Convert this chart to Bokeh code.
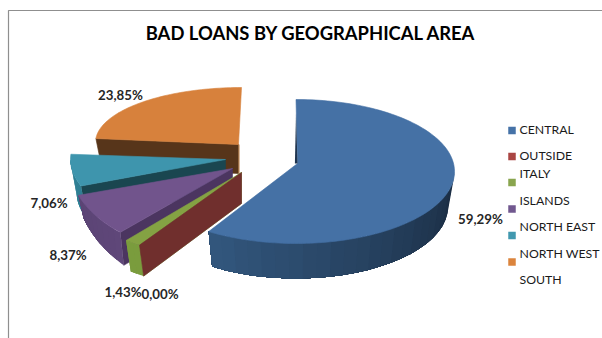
import math
from bokeh.plotting import figure
from bokeh.embed import file_html
from bokeh.resources import INLINE
from bokeh.core.properties import value

# Share of bad loans per area, percent
areas = ["CENTRAL", "OUTSIDE ITALY", "ISLANDS", "NORTH EAST", "NORTH WEST", "SOUTH"]
shares = [59.29, 0.00, 1.43, 8.37, 7.06, 23.85]

FONT = "Lato"
TITLE = "BAD LOANS BY GEOGRAPHICAL AREA"

# Slice projection: apex x, apex y, arc centre x, arc centre y, radius x, radius y,
# depth at the leading edge, depth at the trailing edge
geometry = [
    (297, 163, 295.5, 171, 158.5, 72, 35, 35),
    (241, 172, 241, 172, 185, 87, 31, 31),
    (241, 172, 241, 172, 185, 87, 31, 31),
    (232, 168, 204.7, 162.7, 136, 88.5, 33, 23),
    (225, 159, 225, 159, 155, 73, 33, 33),
    (238, 144, 241, 142, 146, 55, 29, 29),
]
top_colors = ["#4571a5", "#a94442", "#84a243", "#71548c", "#3e95ad", "#d7813c"]
wall_colors = ["#1f3550", "#702f2d", "#7a9c3d", "#4b3560", "#1a4650", "#57351a"]
rim_from = ["#1a2c42", "#702f2d", "#7a9c3d", "#5f4779", "#2f7f94", "#7a4a20"]
rim_to = ["#33587f", "#702f2d", "#7a9c3d", "#5b4475", "#2f7f94", "#8a5526"]
swatch_colors = ["#4572a7", "#aa4643", "#89a54e", "#71588f", "#4198af", "#db843d"]
BOTTOM_SCALE = 0.96

p = figure(width=602, height=338, x_range=(0, 602), y_range=(338, 0),
           output_backend="svg", toolbar_location=None,
           x_axis_location=None, y_axis_location=None,
           min_border=0, outline_line_color=None, background_fill_color="white")
p.xgrid.visible = False
p.ygrid.visible = False


def mix(c1, c2, t):
    a = [int(c1[i:i + 2], 16) for i in (1, 3, 5)]
    b = [int(c2[i:i + 2], 16) for i in (1, 3, 5)]
    return "#%02x%02x%02x" % tuple(round(u + (v - u) * t) for u, v in zip(a, b))


def top_pt(g, theta):
    return g[2] + g[4] * math.sin(theta), g[3] - g[5] * math.cos(theta)


def bottom_pt(g, pt, depth):
    return g[2] + (pt[0] - g[2]) * BOTTOM_SCALE, pt[1] + depth


def poly(xs, ys, color, stroke=True):
    p.patch(xs, ys, fill_color=color, line_color=color if stroke else None, line_width=0.6)


# Sweep of each slice, clockwise from twelve o'clock
bounds = []
acc = 0.0
for s in shares:
    bounds.append((acc / 100 * 2 * math.pi, (acc + s) / 100 * 2 * math.pi))
    acc += s

# Back slices first so the nearer ones cover them
for i in [5, 4, 3, 2, 1, 0]:
    g = geometry[i]
    a0, a1 = bounds[i]
    apex = (g[0], g[1])
    # radial wall on the leading edge of the left-hand slices
    if i > 0:
        out = top_pt(g, a0)
        b_out = bottom_pt(g, out, g[6])
        poly([apex[0], out[0], b_out[0], apex[0]],
             [apex[1], out[1], b_out[1], apex[1] + g[6]], wall_colors[i])
    # outer rim on the front half; each band runs to the far end so no seams show
    lo, hi = max(a0, math.pi / 2), min(a1, 3 * math.pi / 2)
    if hi > lo:
        n = max(2, int((hi - lo) * 16))
        for k in range(n):
            pts = [lo + (hi - lo) * j / 24 for j in range(24 + 1)]
            pts = [t for t in pts if t >= lo + (hi - lo) * k / n - 1e-9]
            upper = [top_pt(g, t) for t in pts]
            lower = [bottom_pt(g, q, g[6] + (g[7] - g[6]) * (t - a0) / (a1 - a0))
                     for q, t in zip(upper, pts)]
            ring = upper + lower[::-1]
            poly([q[0] for q in ring], [q[1] for q in ring],
                 mix(rim_from[i], rim_to[i], (k + 0.5) / n), stroke=False)
    # top face
    if a1 > a0:
        n = max(2, int((a1 - a0) * 40))
        arc = [top_pt(g, a0 + (a1 - a0) * k / n) for k in range(n + 1)]
        poly([apex[0]] + [q[0] for q in arc], [apex[1]] + [q[1] for q in arc], top_colors[i])
    # thin dark inner edge where the large slice starts
    if i == 0:
        start = top_pt(g, a0)
        poly([start[0], apex[0], apex[0] - 2.6], [start[1] + 14, apex[1], apex[1]], wall_colors[0], stroke=False)
    # lighter seam down the inner corner of the back slice
    if i == 5:
        p.line([apex[0] + 0.5, apex[0] + 0.5], [apex[1], apex[1] + g[6]], line_color="#b9783f", line_width=1)

# Chart frame, open at the right and bottom
p.line([8, 8, 602], [338, 10, 10], line_color="#8f8f8f", line_width=1.2)

p.text([310.5], [32], text=[TITLE], text_font=value(FONT), text_font_style="bold",
       text_font_size="18.4px", text_color="#000000", text_align="center", text_baseline="middle")

# Data labels, one per area
label_x = [480, 159.5, 122.5, 67.5, 48.5, 120]
label_y = [218.5, 293, 291, 254, 202.5, 94]
labels = [f"{v:.2f}".replace(".", ",") + "%" for v in shares]
p.text(label_x, label_y, text=labels, text_font=value(FONT), text_font_style="bold",
       text_font_size="13.3px", text_color="#262626", text_align="center", text_baseline="middle")

# Legend: swatches and entries sit on separate rows, as the wrapped entry pushes the text down
swatch_y = [130, 156, 182, 208.5, 235, 261.5]
p.rect([511.5] * 6, swatch_y, width=7.5, height=7.5, fill_color=swatch_colors, line_color=None)
legend_lines = ["CENTRAL", "OUTSIDE", "ITALY", "ISLANDS", "NORTH EAST", "NORTH WEST", "SOUTH"]
legend_y = [129, 155, 173, 199.5, 226, 252.5, 279]
p.text([519] * 7, legend_y, text=legend_lines, text_font=value(FONT), text_font_size="12.3px",
       text_color="#1a1a1a", text_align="left", text_baseline="middle")

open("out.html", "w").write(file_html(p, INLINE))
